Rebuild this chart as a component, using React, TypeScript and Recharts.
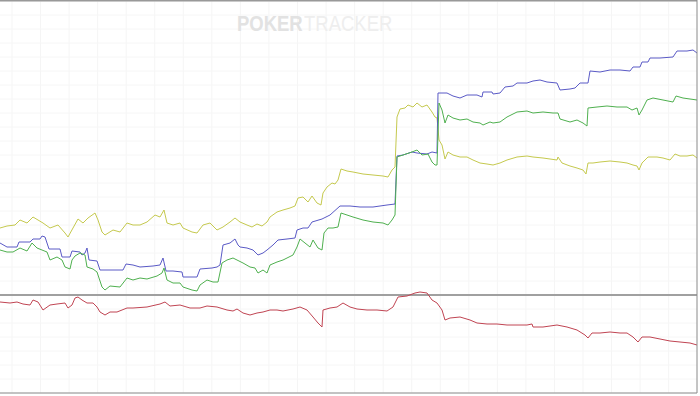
import { LineChart, Line, XAxis, YAxis, ReferenceLine } from 'recharts'

// [hands, won]
const allIn: [number, number][] = [
  [0, 335], [140, 345], [300, 350], [400, 375], [540, 360], [660, 390], [760, 375], [860, 360],
  [1000, 335], [1160, 350], [1300, 310], [1360, 290], [1460, 335], [1560, 380], [1660, 360],
  [1760, 385], [1900, 410], [1960, 375], [2040, 315], [2100, 300], [2260, 325], [2400, 315],
  [2540, 360], [2660, 350], [2800, 350], [2940, 365], [3100, 400], [3200, 390], [3280, 425],
  [3340, 360], [3460, 350], [3600, 360], [3660, 335], [3840, 315], [3940, 310], [4060, 350],
  [4200, 360], [4340, 325], [4460, 340], [4600, 365], [4700, 385], [4800, 365], [4940, 350],
  [5040, 340], [5140, 355], [5240, 345], [5340, 365], [5400, 390], [5540, 415], [5660, 425],
  [5800, 435], [5900, 445], [5960, 485], [6060, 490], [6160, 465], [6240, 495], [6340, 460],
  [6420, 450], [6460, 510], [6540, 540], [6640, 560], [6700, 555], [6760, 575], [6820, 630],
  [6940, 620], [7060, 615], [7260, 605], [7460, 600], [7660, 595], [7760, 590], [7840, 625],
  [7900, 640], [7940, 890], [8000, 930], [8100, 935], [8160, 950], [8260, 940], [8340, 960],
  [8440, 940], [8540, 950], [8640, 915], [8700, 890], [8740, 885], [8780, 775], [8840, 750],
  [8900, 680], [8960, 715], [9060, 700], [9200, 690], [9340, 690], [9460, 675], [9600, 660],
  [9740, 655], [9860, 650], [10000, 660], [10140, 675], [10340, 690], [10540, 695], [10660, 690],
  [10860, 685], [11000, 680], [11140, 675], [11160, 690], [11240, 660], [11400, 645], [11540, 635],
  [11660, 625], [11720, 605], [11760, 660], [11860, 660], [12000, 665], [12200, 670], [12400, 665],
  [12540, 660], [12660, 650], [12740, 645], [12780, 625], [12840, 660], [12960, 690], [13140, 690],
  [13260, 685], [13400, 675], [13500, 705], [13600, 695], [13740, 695], [13860, 700], [13940, 685],
]

const netWon: [number, number][] = [
  [0, 260], [140, 240], [340, 240], [380, 265], [600, 265], [660, 280], [800, 280], [840, 295],
  [900, 290], [940, 260], [980, 230], [1200, 230], [1240, 190], [1400, 190], [1440, 220],
  [1600, 215], [1640, 200], [1700, 210], [1740, 235], [1780, 175], [1940, 170], [2000, 125],
  [2460, 125], [2520, 155], [2660, 150], [2800, 140], [3060, 145], [3200, 150], [3260, 185],
  [3320, 120], [3460, 120], [3640, 115], [3660, 90], [3940, 90], [4000, 130], [4240, 135],
  [4340, 140], [4400, 150], [4460, 250], [4600, 260], [4700, 280], [4760, 250], [4800, 240],
  [4940, 235], [5060, 225], [5160, 200], [5260, 210], [5340, 225], [5460, 250], [5560, 275],
  [5740, 280], [5900, 285], [5940, 325], [6060, 335], [6160, 335], [6240, 365], [6440, 380],
  [6600, 400], [6800, 445], [7000, 445], [7200, 440], [7460, 440], [7740, 450], [7900, 455],
  [7940, 695], [8060, 700], [8240, 715], [8340, 710], [8540, 705], [8640, 715], [8740, 710],
  [8760, 1010], [8940, 1010], [9060, 995], [9200, 985], [9340, 1000], [9540, 1000], [9640, 990],
  [9660, 1015], [9840, 1015], [9860, 1005], [10000, 1010], [10100, 1040], [10260, 1045],
  [10340, 1060], [10540, 1060], [10660, 1070], [10800, 1075], [10940, 1065], [11140, 1060],
  [11200, 1025], [11400, 1030], [11500, 1035], [11600, 1060], [11760, 1060], [11800, 1120],
  [12000, 1115], [12200, 1125], [12400, 1125], [12600, 1120], [12660, 1140], [12800, 1140],
  [12840, 1165], [12960, 1165], [13000, 1185], [13200, 1185], [13460, 1190], [13540, 1220],
  [13740, 1220], [13860, 1225], [13940, 1210],
]

const showdown: [number, number][] = [
  [0, 225], [140, 215], [260, 215], [400, 235], [540, 220], [640, 260], [740, 235], [840, 225],
  [940, 215], [1000, 175], [1140, 190], [1240, 175], [1300, 140], [1400, 130], [1440, 175],
  [1500, 195], [1600, 210], [1700, 200], [1740, 140], [1860, 130], [1940, 115], [2040, 40],
  [2100, 25], [2200, 45], [2400, 40], [2540, 85], [2660, 75], [2800, 85], [2940, 80], [3140, 95],
  [3240, 110], [3280, 135], [3340, 75], [3460, 60], [3600, 60], [3660, 40], [3840, 25],
  [3940, 20], [4000, 50], [4140, 75], [4260, 65], [4360, 65], [4440, 160], [4540, 175],
  [4660, 185], [4740, 175], [4860, 160], [5000, 140], [5100, 135], [5160, 110], [5260, 125],
  [5340, 110], [5400, 150], [5540, 165], [5660, 175], [5860, 200], [5940, 240], [6000, 280],
  [6100, 260], [6200, 240], [6260, 275], [6360, 235], [6440, 225], [6480, 310], [6560, 335],
  [6660, 335], [6760, 340], [6820, 410], [6940, 400], [7060, 390], [7260, 375], [7460, 365],
  [7660, 360], [7760, 350], [7840, 375], [7900, 400], [7940, 690], [8060, 700], [8240, 715],
  [8340, 725], [8440, 700], [8560, 705], [8640, 665], [8700, 650], [8740, 650], [8780, 960],
  [8840, 925], [8900, 860], [8960, 900], [9060, 885], [9200, 875], [9340, 880], [9460, 865],
  [9600, 860], [9660, 850], [9800, 865], [9860, 860], [10000, 865], [10140, 890], [10340, 915],
  [10540, 920], [10660, 910], [10860, 915], [11060, 910], [11160, 910], [11200, 880],
  [11400, 865], [11540, 875], [11660, 860], [11740, 845], [11760, 935], [11940, 940],
  [12140, 945], [12340, 940], [12540, 940], [12640, 925], [12740, 935], [12780, 900],
  [12840, 925], [12940, 975], [13060, 985], [13260, 975], [13460, 965], [13520, 995],
  [13660, 985], [13800, 980], [13940, 975],
]

const nonShowdown: [number, number][] = [
  [0, -35], [200, -40], [340, -35], [460, -45], [600, -50], [660, -25], [760, -35], [860, -75],
  [1000, -50], [1140, -45], [1300, -40], [1360, -65], [1440, -50], [1500, -15], [1560, -10],
  [1640, -25], [1740, -40], [1860, -40], [1940, -60], [2000, -85], [2100, -100], [2200, -85],
  [2340, -85], [2540, -65], [2660, -65], [2940, -60], [3200, -45], [3300, -35], [3400, -55],
  [3600, -50], [3800, -65], [4000, -65], [4140, -55], [4340, -60], [4540, -75], [4660, -80],
  [4740, -70], [4860, -90], [5000, -100], [5140, -90], [5260, -85], [5400, -75], [5540, -75],
  [5660, -80], [5860, -70], [6000, -60], [6140, -75], [6260, -110], [6360, -140], [6440, -160],
  [6460, -75], [6600, -65], [6740, -60], [6860, -40], [7000, -60], [7140, -70], [7340, -75],
  [7540, -75], [7740, -80], [7860, -60], [7960, -10], [8140, -5], [8300, 10], [8400, 15],
  [8540, 10], [8640, -25], [8740, -40], [8840, -75], [8900, -125], [9000, -115], [9200, -110],
  [9400, -125], [9540, -140], [9740, -145], [9940, -145], [10140, -150], [10340, -150],
  [10540, -150], [10640, -145], [10660, -160], [10860, -160], [11140, -150], [11340, -160],
  [11540, -175], [11700, -200], [11760, -215], [11840, -190], [12000, -190], [12200, -185],
  [12400, -190], [12540, -190], [12660, -210], [12760, -235], [12840, -210], [13000, -210],
  [13200, -220], [13400, -230], [13600, -235], [13800, -240], [13940, -250],
]

const handTicks = Array.from({ length: 25 }, (_, i) => 240 + i * 571)
const wonTicks = Array.from({ length: 29 }, (_, i) => -490 + i * 70)

const toRows = (pts: [number, number][]) => pts.map(([h, v]) => ({ h, v }))

const lineProps = { dataKey: 'v', strokeWidth: 1, dot: false, activeDot: false, isAnimationActive: false }

export default function App() {
  return (
    <div style={{ position: 'fixed', left: 0, top: 0, width: 700, height: 396, background: '#fff' }}>
      <LineChart width={700} height={396} margin={{ top: 0, right: 0, bottom: 0, left: 0 }}>
        {/* faint grid, one line per axis tick */}
        {handTicks.map(t => (
          <ReferenceLine key={'x' + t} x={t} stroke="#f5f5f5" />
        ))}
        {wonTicks.map(t => (
          <ReferenceLine key={'y' + t} y={t} stroke="#f6f6f6" />
        ))}
        <XAxis
          type="number"
          dataKey="h"
          domain={[0, 13940]}
          ticks={handTicks}
          tick={false}
          tickSize={3}
          height={3}
          stroke="#8a8a8a"
          tickLine={{ stroke: '#666' }}
        />
        <YAxis
          orientation="right"
          type="number"
          domain={[-490, 1475]}
          ticks={wonTicks}
          tick={false}
          tickSize={3}
          width={3}
          stroke="#8a8a8a"
          tickLine={{ stroke: '#666' }}
        />
        <ReferenceLine y={1475} stroke="#999" strokeWidth={3} />
        <ReferenceLine y={0} stroke="#a0a0a0" strokeWidth={2} />
        <Line {...lineProps} data={toRows(allIn)} stroke="#c5c94e" />
        <Line {...lineProps} data={toRows(netWon)} stroke="#5a5ac6" />
        <Line {...lineProps} data={toRows(showdown)} stroke="#4fb04f" />
        <Line {...lineProps} data={toRows(nonShowdown)} stroke="#c04452" />
      </LineChart>
      <div
        style={{
          position: 'absolute',
          left: 237,
          top: 12,
          fontFamily: '"Liberation Sans", Arial, sans-serif',
          fontSize: 22,
          lineHeight: '24px',
          whiteSpace: 'nowrap',
        }}
      >
        <span style={{ display: 'inline-block', color: '#e2e2e2', fontWeight: 700, transform: 'scaleX(0.84)', transformOrigin: 'left', width: 67 }}>
          POKER
        </span>
        <span style={{ display: 'inline-block', color: '#eeeeee', fontWeight: 400, transform: 'scaleX(0.84)', transformOrigin: 'left' }}>
          TRACKER
        </span>
      </div>
    </div>
  )
}
